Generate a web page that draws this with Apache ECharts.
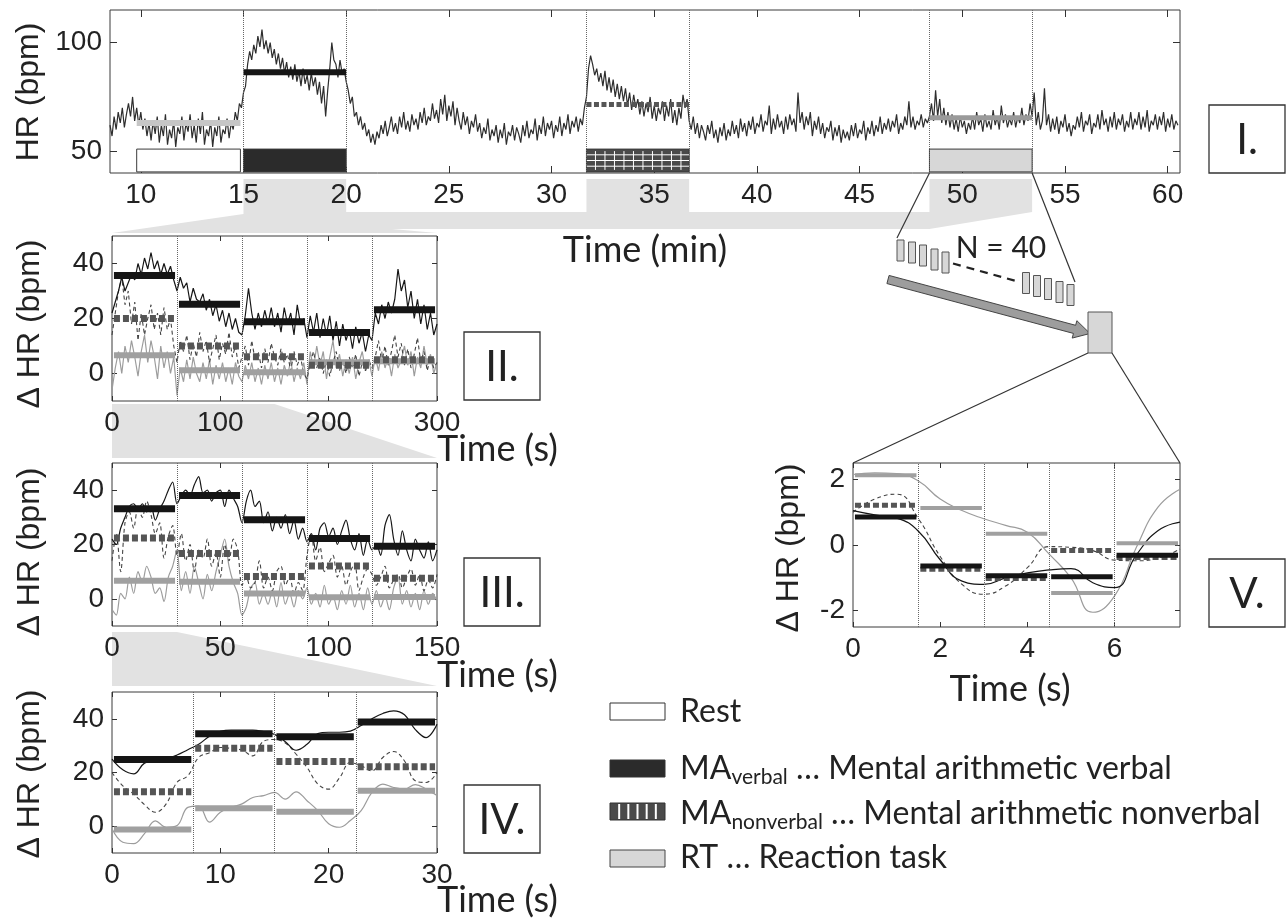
<!DOCTYPE html>
<html><head><meta charset="utf-8">
<script src="https://cdn.jsdelivr.net/npm/echarts@6/dist/echarts.min.js"></script>
<style>html,body{margin:0;padding:0;background:#fff}#main{width:1286px;height:922px}</style>
</head><body><div id="main"></div>
<script>
// ---------------- DATA ----------------
// Panel I : heart rate over the whole session (min), one value every 0.1 min from 8.5
const hrStart = 8.5, hrStep = 0.1;
const hrValues = [
 62,57,66,60,68,63,70,61,67,72, 66,75,64,70,62,68,60,65,57,63,
 55,64,58,66,54,62,57,67,53,60, 56,64,52,61,58,66,55,63,59,67,
 56,62,54,65,58,68,53,60,57,64, 52,61,57,66,54,60,58,65,56,63,
 60,68,64,72,70,77,80,90,96,92, 99,95,103,98,106,97,101,95,100,93,
 97,90,95,88,93,86,91,84,89,83, 90,82,87,80,88,81,85,78,86,80,
 84,76,82,72,80,66,78,88,100,92, 90,84,92,86,88,82,78,72,75,66,
 68,62,66,60,63,57,60,54,58,53, 59,56,62,58,64,57,61,66,59,63,
 58,66,61,68,60,64,59,67,62,65, 60,68,63,70,62,66,64,72,65,69,
 63,74,67,76,64,71,66,73,62,70, 64,60,68,62,66,58,64,61,67,59,
 63,56,61,58,65,55,60,57,62,54, 60,56,63,53,59,57,62,55,61,58,
 54,62,57,64,56,60,58,65,55,62, 58,66,57,63,60,64,56,62,59,66,
 57,63,60,67,58,64,61,66,59,65, 62,70,75,88,94,90,85,88,82,86,
 80,87,78,84,77,83,75,81,74,80, 73,79,71,77,69,76,70,74,67,73,
 66,72,68,75,65,71,64,70,67,73, 64,71,66,74,63,69,62,70,65,76,
 70,74,64,60,66,58,63,56,62,59, 55,62,58,64,56,60,54,61,57,63,
 55,60,57,64,58,62,56,65,59,63, 57,64,60,66,58,63,61,67,59,64,
 62,71,58,65,60,67,61,64,58,66, 60,67,62,65,59,77,63,68,60,66,
 62,68,57,64,60,66,58,63,56,61, 59,64,55,61,57,62,54,60,56,59,
 55,62,57,63,56,60,58,64,55,61, 58,64,57,62,59,66,58,63,60,65,
 59,64,61,67,58,63,60,66,62,73, 61,66,60,64,62,67,61,65,63,66,
 72,64,78,66,74,63,70,62,68,61, 67,60,65,59,66,61,64,58,63,60,
 66,60,68,62,65,59,67,61,64,60, 69,62,66,60,71,63,67,61,65,62,
 68,61,66,63,70,62,67,64,72,66, 77,62,68,60,64,79,62,67,59,65,
 60,66,58,64,61,67,59,63,57,62, 60,66,61,68,59,64,62,67,58,63,
 61,67,60,69,62,65,59,66,61,68, 60,65,62,67,59,64,61,68,60,65,
 62,68,60,66,61,69,59,64,62,67, 60,66,62,68,59,65,61,67,60,64,
 62
];
const taskNames = ['Rest', 'MA verbal', 'MA nonverbal', 'RT'];
const taskStart = [9.8, 15, 31.7, 48.4];
const taskEnd   = [14.85, 20, 36.7, 53.4];
const taskMean  = [63, 86.3, 71.5, 65.4];
const blockRange = [40.5, 51];
const p1XTicks = [10,15,20,25,30,35,40,45,50,55,60];
const p1YTicks = [50,100];

// Panel II (s)
const p2Step = 3;
const p2Verbal = [22,26,30,35,30,33,36,34,40,36, 42,38,44,38,41,36,40,36,39,34, 30,35,31,33,26,31,27,26,29,23,
 27,21,25,19,23,17,22,16,20,15, 14,21,31,22,16,22,17,23,18,24, 17,22,15,24,18,22,14,25,18,20,
 13,21,15,22,13,20,14,21,12,19, 10,18,12,16,9,17,11,15,8,14, 12,22,18,25,20,26,22,27,38,30,
 34,24,30,20,27,18,25,16,22,14, 18];
const p2Nonverbal = [14,22,30,35,25,30,18,26,12,22, 14,20,25,16,22,14,24,16,20,10, 4,12,8,14,5,11,6,15,8,12,
 4,9,14,5,11,7,15,6,10,2, 6,10,3,12,5,8,2,9,4,11, 6,3,9,4,7,1,8,3,6,0,
 -2,4,8,2,6,0,5,-1,4,8, 1,5,0,6,2,7,-1,4,1,5, 2,6,12,4,10,3,8,14,6,11,
 3,9,2,7,13,4,8,1,6,2, 4];
const p2Rt = [-6,2,8,0,10,4,12,6,-1,8, 14,4,12,6,-2,10,2,8,0,6, -8,2,-3,5,-2,6,0,-3,4,-2,
 5,-4,3,-2,4,-3,2,-4,4,-1, -3,3,-2,4,-3,2,-4,3,-2,4, -3,2,-4,3,-1,5,-3,2,-2,4,
 -4,8,2,10,3,8,-2,6,12,2, 7,-1,5,0,6,-2,4,8,1,5, -1,6,1,8,2,6,-1,7,2,5,
 10,3,8,-1,6,2,10,3,7,0, 4];
const p2Bounds = [0,60,120,180,240,300];
const p2MeanVerbal = [35.6,25.2,18.8,14.9,23.2];
const p2MeanNonverbal = [20,10,6.1,3,5];
const p2MeanRt = [6.6,1.2,0.5,4.1,4.5];
const p2XTicks = [0,100,200,300];

// Panel III (s)
const p3Step = 2;
const p3Verbal = [22,20,26,30,34,35,33,35,32,34, 29,33,36,40,43,35,38,40,38,42, 45,39,40,36,39,40,34,40,37,34,
 28,36,40,34,36,28,32,25,30,26, 31,24,29,22,26,21,24,18,26,28, 23,26,20,25,29,22,18,24,16,22,
 18,20,16,27,31,22,16,25,18,14, 22,18,15,21,14,18];
const p3Nonverbal = [14,24,10,28,32,26,34,30,36,31, 24,28,15,23,27,16,24,14,20,10, 18,15,22,12,17,8,20,14,22,18,
 5,8,4,6,14,4,8,3,10,12, 5,8,2,6,3,16,24,14,19,10, 13,16,8,12,5,10,13,3,8,11,
 9,5,8,12,4,7,9,4,8,11, 5,9,3,7,4,9];
const p3Rt = [-4,-6,2,0,8,2,10,6,12,8, 2,4,-1,8,12,18,3,10,2,12, 6,0,9,3,10,16,22,12,6,2,
 -6,-3,4,6,-2,2,-2,3,-3,6, -2,2,-3,3,0,4,-2,2,-3,5, -2,1,-4,3,-2,5,-3,2,-4,4,
 -2,3,-3,1,-4,4,8,-2,3,-3, 2,-4,3,-2,2,-1];
const p3Bounds = [0,30,60,90,120,150];
const p3MeanVerbal = [33.2,38,29.1,22.2,19.4];
const p3MeanNonverbal = [22.4,16.7,8.2,12.1,7.6];
const p3MeanRt = [6.7,6.3,2,0.6,0.7];
const p3XTicks = [0,50,100,150];

// Panel IV (s)
const p4Step = 1;
const p4Verbal = [25,21,19.5,23.5,24.3,25,26.5,28.5,30.5,33.5,35.3,35.8,35.8,35.8,35.2,34.2,31.5,28.3,30.5,34.5,35,35,35.4,37.5,40,42,43,41.5,36,33,38];
const p4Nonverbal = [20,15,12,8,5.2,8.3,16.3,18.8,25.6,27.4,29.3,29,28.3,26.2,31.7,32.3,31,26.8,21.9,15.7,13.8,18,23.7,22.5,20.6,25.6,27.8,24.3,16.9,16.3,20];
const p4Rt = [-1,-6,-6.5,-2.8,2,-0.4,0.2,7,7.5,1.5,5.2,7,8.3,10.7,11.4,12.6,10.1,12.8,9.5,5.8,0.9,-0.4,2.1,5.8,12.6,15.7,14.4,13.8,15.5,13.8,11.4];
const p4Bounds = [0,7.5,15,22.5,30];
const p4MeanVerbal = [24.8,34.4,33.3,38.8];
const p4MeanNonverbal = [12.8,29,24.1,22.1];
const p4MeanRt = [-1.2,6.7,5.4,13.2];
const p4XTicks = [0,10,20,30];
const dYTicks = [0,20,40];

// Panel V (s), average of N = 40 reaction-task segments
const p5Step = 0.5;
const p5Verbal = [1.05,0.92,0.82,0.42,-0.45,-1.1,-1.2,-1.0,-0.85,-0.76,-0.72,-1.15,-1.3,-0.3,0.44,0.7];
const p5Nonverbal = [1.0,1.4,1.55,0.8,-0.35,-1.2,-1.5,-1.25,-0.69,-0.05,-0.07,-0.17,-0.46,-0.48,-0.4,-0.12];
const p5Rt = [2.15,2.2,2.18,1.95,1.4,1.05,0.8,0.6,0.39,-0.28,-1.0,-2.05,-1.55,-0.07,1.16,1.7];
const p5Bounds = [0,1.5,3,4.5,6,7.5];
const p5MeanVerbal = [0.85,-0.64,-0.94,-0.97,-0.31];
const p5MeanNonverbal = [1.21,-0.74,-1.02,-0.17,-0.38];
const p5MeanRt = [2.13,1.13,0.34,-1.46,0.05];
const p5XTicks = [0,2,4,6];
const p5YTicks = [-2,0,2];

// ---------------- CHART ----------------
const TICKFONT = 'Liberation Sans';
const grids = [
  {left:110, top:10, width:1070, height:163},
  {left:112, top:236, width:325, height:165},
  {left:112, top:463, width:325, height:163},
  {left:112, top:692, width:325, height:161},
  {left:853, top:463, width:327, height:164}
];
const xAxes = [], yAxes = [], series = [];
function addAxes(g, xr, yr, xt, yt, tl){
  const base = {gridIndex:g, type:'value', axisLine:{show:false, onZero:false}, splitLine:{show:false}};
  const lab = {fontSize:28, fontFamily:TICKFONT, color:'#222'};
  xAxes.push(Object.assign({}, base, {min:xr[0], max:xr[1], position:'bottom',
    axisTick:{inside:true, length:tl, customValues:xt, lineStyle:{color:'#333'}},
    axisLabel:Object.assign({customValues:xt, margin:8}, lab)}));
  xAxes.push(Object.assign({}, base, {min:xr[0], max:xr[1], position:'top',
    axisTick:{inside:true, length:tl, customValues:xt, lineStyle:{color:'#333'}}, axisLabel:{show:false}}));
  yAxes.push(Object.assign({}, base, {min:yr[0], max:yr[1], position:'left',
    axisTick:{inside:true, length:tl, customValues:yt, lineStyle:{color:'#333'}},
    axisLabel:Object.assign({customValues:yt, margin:8}, lab)}));
  yAxes.push(Object.assign({}, base, {min:yr[0], max:yr[1], position:'right',
    axisTick:{inside:true, length:tl, customValues:yt, lineStyle:{color:'#333'}}, axisLabel:{show:false}}));
}
function dottedMarks(vals){
  return {silent:true, symbol:'none', animation:false, label:{show:false},
    lineStyle:{type:'dotted', color:'#666', width:1}, data: vals.map(v => ({xAxis:v}))};
}
function barSeries(g, data, style, z){
  return {type:'custom', xAxisIndex:2*g, yAxisIndex:2*g, z:z||4, silent:true,
    encode:{x:[0,1], y:2}, data:data,
    renderItem:function(params, api){
      const a = api.coord([api.value(0), api.value(2)]);
      const b = api.coord([api.value(1), api.value(2)]);
      return {type:'line', shape:{x1:a[0], y1:a[1], x2:b[0], y2:b[1]},
        style:Object.assign({lineCap:'butt'}, style)};
    }};
}

// Panel I
addAxes(0, [8.5,60.6], [40,115], p1XTicks, p1YTicks, 7);
series.push({type:'line', xAxisIndex:0, yAxisIndex:0, showSymbol:false, symbol:'none', z:2,
  data: hrValues.map((v,i) => [hrStart + i*hrStep, v]),
  lineStyle:{color:'#2e2e2e', width:1.2},
  markLine: dottedMarks([taskStart[1], taskEnd[1], taskStart[2], taskEnd[2], taskStart[3], taskEnd[3]])});
series.push({type:'custom', xAxisIndex:0, yAxisIndex:0, z:3, silent:true,
  encode:{x:[0,1], y:[2,3]},
  data: taskStart.map((s,i) => [s, taskEnd[i], blockRange[0], blockRange[1], i]),
  renderItem:function(params, api){
    const k = api.value(4);
    const p0 = api.coord([api.value(0), api.value(3)]);
    const p1 = api.coord([api.value(1), api.value(2)]);
    const x = p0[0], y = p0[1], w = p1[0]-p0[0], h = p1[1]-p0[1];
    const fills = ['#ffffff','#2b2b2b','#4a4a4a','#d7d7d7'];
    const ch = [{type:'rect', shape:{x:x, y:y, width:w, height:h}, style:{fill:fills[k], stroke:'#3a3a3a', lineWidth:1}}];
    if (k === 2){
      for (let j=1;j<4;j++) ch.push({type:'line', shape:{x1:x, y1:y+h*j/4, x2:x+w, y2:y+h*j/4}, style:{stroke:'#fff', lineWidth:1}});
      for (let xx=x+9; xx<x+w-3; xx+=9.5) ch.push({type:'line', shape:{x1:xx, y1:y+2, x2:xx, y2:y+h-2}, style:{stroke:'#fff', lineWidth:1}});
    }
    return {type:'group', children:ch};
  }});
const p1BarStyles = [
  {stroke:'#c6c6c6', lineWidth:6},
  {stroke:'#161616', lineWidth:6},
  {stroke:'#565656', lineWidth:5, lineDash:[5,2.5]},
  {stroke:'#9a9a9a', lineWidth:5}
];
taskStart.forEach((s,i) => series.push(barSeries(0, [[s, taskEnd[i], taskMean[i]]], p1BarStyles[i], 4)));

// Panels II - V
const panels = [
  {g:1, step:p2Step, v:p2Verbal, n:p2Nonverbal, r:p2Rt, b:p2Bounds, mv:p2MeanVerbal, mn:p2MeanNonverbal, mr:p2MeanRt, xt:p2XTicks, yt:dYTicks, yr:[-10,50], smooth:false, bw:7, tl:5},
  {g:2, step:p3Step, v:p3Verbal, n:p3Nonverbal, r:p3Rt, b:p3Bounds, mv:p3MeanVerbal, mn:p3MeanNonverbal, mr:p3MeanRt, xt:p3XTicks, yt:dYTicks, yr:[-10,50], smooth:0.3, bw:7, tl:5},
  {g:3, step:p4Step, v:p4Verbal, n:p4Nonverbal, r:p4Rt, b:p4Bounds, mv:p4MeanVerbal, mn:p4MeanNonverbal, mr:p4MeanRt, xt:p4XTicks, yt:dYTicks, yr:[-10,50], smooth:0.4, bw:7, tl:5},
  {g:4, step:p5Step, v:p5Verbal, n:p5Nonverbal, r:p5Rt, b:p5Bounds, mv:p5MeanVerbal, mn:p5MeanNonverbal, mr:p5MeanRt, xt:p5XTicks, yt:p5YTicks, yr:[-2.5,2.5], smooth:0.5, bw:5, tl:5}
];
panels.forEach(p => {
  const xr = [p.b[0], p.b[p.b.length-1]];
  addAxes(p.g, xr, p.yr, p.xt, p.yt, p.tl);
  const toPts = arr => arr.map((v,i) => [i*p.step, v]);
  const ax = {xAxisIndex:2*p.g, yAxisIndex:2*p.g, showSymbol:false, symbol:'none', smooth:p.smooth, z:2};
  series.push(Object.assign({type:'line', data:toPts(p.r), lineStyle:{color:'#9c9c9c', width:1.2},
    markLine: dottedMarks(p.b.slice(1,-1))}, ax));
  series.push(Object.assign({type:'line', data:toPts(p.n), lineStyle:{color:'#444', width:1.1, type:[4,3]}}, ax));
  series.push(Object.assign({type:'line', data:toPts(p.v), lineStyle:{color:'#161616', width:1.2}}, ax));
  const inset = (xr[1]-xr[0]) * 0.006;
  const seg = means => means.map((m,i) => [p.b[i]+inset, p.b[i+1]-inset, m]);
  series.push(barSeries(p.g, seg(p.mr), {stroke:'#a0a0a0', lineWidth:p.bw-1}, 4));
  series.push(barSeries(p.g, seg(p.mn), {stroke:'#555', lineWidth:p.bw, lineDash:[6,3]}, 5));
  series.push(barSeries(p.g, seg(p.mv), {stroke:'#151515', lineWidth:p.bw}, 6));
});

const option = {
  animation:false,
  backgroundColor:'#ffffff',
  grid: grids.map(g => Object.assign({show:true, borderColor:'#3a3a3a', borderWidth:1, backgroundColor:'transparent'}, g)),
  xAxis:xAxes, yAxis:yAxes, series:series
};
const chart = echarts.init(document.getElementById('main'));
chart.setOption(option);

// ---------------- DECORATIONS ----------------
const px = (g, v) => chart.convertToPixel({xAxisIndex:2*g, yAxisIndex:2*g}, v);
const X0 = v => px(0, [v, 40])[0];
const yB = px(0, [10, 40])[1];
const xa0 = X0(taskStart[1]), xa1 = X0(taskEnd[1]), xb0 = X0(taskStart[2]), xb1 = X0(taskEnd[2]), xc0 = X0(taskStart[3]), xc1 = X0(taskEnd[3]);
const yT = yB + 6, yM = yB + 39, yL = yB + 56;
const p2tl = px(1, [0, 50]), p2tr = px(1, [300, 50]), p2bl = px(1, [0, -10]), p2mid = px(1, [150, -10]);
const p3tl = px(2, [0, 50]), p3tr = px(2, [150, 50]), p3bl = px(2, [0, -10]), p3q = px(2, [30, -10]);
const p4tl = px(3, [0, 50]), p4tr = px(3, [30, 50]);
const p5tl = px(4, [0, 2.5]), p5tr = px(4, [7.5, 2.5]);
const GRAY = '#e2e2e2';
const gfx = [];
gfx.push({type:'polygon', z:-10, silent:true, shape:{points:[
  [xa0,yT],[xa1,yT],[xa1,yM],[xb0,yM],[xb0,yT],[xb1,yT],[xb1,yM],[xc0,yM],[xc0,yT],[xc1,yT],[xc1,yM],
  [xc0,yL],[p2tr[0]-45,yL],[p2tr[0],p2tr[1]-3],[p2tl[0],p2tl[1]-3],[xa0,yM+2]]}, style:{fill:GRAY}});
gfx.push({type:'polygon', z:-10, silent:true, shape:{points:[
  [p2bl[0],p2bl[1]+3],[p2mid[0],p2bl[1]+3],[p3tr[0],p3tr[1]-5],[p3tl[0],p3tl[1]-5]]}, style:{fill:GRAY}});
gfx.push({type:'polygon', z:-10, silent:true, shape:{points:[
  [p3bl[0],p3bl[1]+6],[p3q[0],p3bl[1]+6],[p4tr[0],p4tr[1]-6],[p4tl[0],p4tl[1]-6]]}, style:{fill:GRAY}});
// lines from RT block to the 40 segments
gfx.push({type:'line', silent:true, shape:{x1:xc0, y1:yB, x2:897, y2:238}, style:{stroke:'#333', lineWidth:1.2}});
gfx.push({type:'line', silent:true, shape:{x1:xc1, y1:yB, x2:1075, y2:282}, style:{stroke:'#333', lineWidth:1.2}});
// 40 segments schematic
[[897,240],[908.5,242],[919.5,245],[931,249],[942,252]].forEach(r =>
  gfx.push({type:'rect', silent:true, shape:{x:r[0], y:r[1], width:7, height:21}, style:{fill:'#d7d7d7', stroke:'#555', lineWidth:1}}));
[[1022.5,272.5],[1033.5,275.5],[1044.5,278.5],[1056,281.5],[1067,284.5]].forEach(r =>
  gfx.push({type:'rect', silent:true, shape:{x:r[0], y:r[1], width:7, height:21}, style:{fill:'#d7d7d7', stroke:'#555', lineWidth:1}}));
gfx.push({type:'line', silent:true, shape:{x1:953, y1:263.5, x2:1018, y2:281.5}, style:{stroke:'#222', lineWidth:2.2, lineDash:[8,6]}});
gfx.push({type:'text', silent:true, style:{x:1001, y:248, text:'N = 40', fontFamily:'Lato', fontSize:30, fill:'#222', align:'center', verticalAlign:'middle', textAlign:'center', textVerticalAlign:'middle'}});
// arrow
(function(){
  const t = [888, 279.5], tip = [1090, 333.5];
  const dx = tip[0]-t[0], dy = tip[1]-t[1], L = Math.hypot(dx,dy), ux = dx/L, uy = dy/L, nx = -uy, ny = ux;
  const hb = [tip[0]-ux*16, tip[1]-uy*16], sw = 4.2, hw = 9;
  gfx.push({type:'polygon', silent:true, shape:{points:[
    [t[0]+nx*sw, t[1]+ny*sw],[hb[0]+nx*sw, hb[1]+ny*sw],[hb[0]+nx*hw, hb[1]+ny*hw],tip,
    [hb[0]-nx*hw, hb[1]-ny*hw],[hb[0]-nx*sw, hb[1]-ny*sw],[t[0]-nx*sw, t[1]-ny*sw]]},
    style:{fill:'#9d9d9d', stroke:'#444', lineWidth:1}});
})();
gfx.push({type:'rect', silent:true, shape:{x:1088, y:312, width:24, height:41}, style:{fill:'#d7d7d7', stroke:'#555', lineWidth:1}});
gfx.push({type:'line', silent:true, shape:{x1:1088, y1:353, x2:p5tl[0], y2:p5tl[1]}, style:{stroke:'#333', lineWidth:1.2}});
gfx.push({type:'line', silent:true, shape:{x1:1112, y1:353, x2:p5tr[0], y2:p5tr[1]}, style:{stroke:'#333', lineWidth:1.2}});

// panel label boxes
[['I.',1209,105],['II.',464,332],['III.',464,558],['IV.',464,785],['V.',1209,559]].forEach(b => {
  gfx.push({type:'rect', silent:true, shape:{x:b[1], y:b[2], width:76, height:68}, style:{fill:'#fff', stroke:'#333', lineWidth:1.3}});
  gfx.push({type:'text', silent:true, style:{x:b[1]+38, y:b[2]+35, text:b[0], fontFamily:'Lato', fontSize:42, fill:'#222', align:'center', verticalAlign:'middle', textAlign:'center', textVerticalAlign:'middle'}});
});

// axis titles
const ytitle = (txt, x, y) => gfx.push({type:'text', silent:true, x:x, y:y, rotation:Math.PI/2,
  style:{x:0, y:0, text:txt, fontFamily:TICKFONT, fontSize:32, fill:'#222', align:'center', verticalAlign:'middle', textAlign:'center', textVerticalAlign:'middle'}});
ytitle('HR (bpm)', 29, 92);
ytitle('Δ HR (bpm)', 30, 324);
ytitle('Δ HR (bpm)', 30, 552);
ytitle('Δ HR (bpm)', 30, 774);
ytitle('Δ HR (bpm)', 789, 548);
const xtitle = (txt, x, y, al) => gfx.push({type:'text', silent:true,
  style:{x:x, y:y, text:txt, fontFamily:'Lato', fontSize:36, fill:'#222', align:al, verticalAlign:'middle', textAlign:al, textVerticalAlign:'middle'}});
xtitle('Time (min)', 645, 250, 'center');
xtitle('Time (s)', 437, 449, 'left');
xtitle('Time (s)', 437, 675, 'left');
xtitle('Time (s)', 437, 900, 'left');
xtitle('Time (s)', 1010, 689, 'center');

// legend
const LX = 610, LW = 55, LH = 17;
gfx.push({type:'rect', silent:true, shape:{x:LX, y:703, width:LW, height:LH}, style:{fill:'#fff', stroke:'#333', lineWidth:1}});
gfx.push({type:'rect', silent:true, shape:{x:LX, y:760, width:LW, height:LH}, style:{fill:'#2b2b2b', stroke:'#333', lineWidth:1}});
gfx.push({type:'rect', silent:true, shape:{x:LX, y:803, width:LW, height:LH}, style:{fill:'#4a4a4a', stroke:'#333', lineWidth:1}});
for (let k=1;k<6;k++) gfx.push({type:'line', silent:true, shape:{x1:LX+k*LW/6, y1:804, x2:LX+k*LW/6, y2:803+LH-1}, style:{stroke:'#fff', lineWidth:2}});
gfx.push({type:'rect', silent:true, shape:{x:LX, y:850, width:LW, height:LH}, style:{fill:'#d7d7d7', stroke:'#444', lineWidth:1}});
const rich = {a:{fontFamily:'Lato', fontSize:32, fill:'#222'}, s:{fontFamily:'Lato', fontSize:21, fill:'#222', padding:[16,0,0,0]}};
const legText = (txt, y) => gfx.push({type:'text', silent:true,
  style:{x:680, y:y, text:txt, rich:rich, fontFamily:'Lato', fontSize:32, fill:'#222', align:'left', verticalAlign:'middle', textAlign:'left', textVerticalAlign:'middle'}});
legText('{a|Rest}', 712);
legText('{a|MA}{s|verbal}{a| … Mental arithmetic verbal}', 769);
legText('{a|MA}{s|nonverbal}{a| … Mental arithmetic nonverbal}', 814);
legText('{a|RT … Reaction task}', 858);

chart.setOption({graphic:{elements:gfx}});
</script></body></html>
